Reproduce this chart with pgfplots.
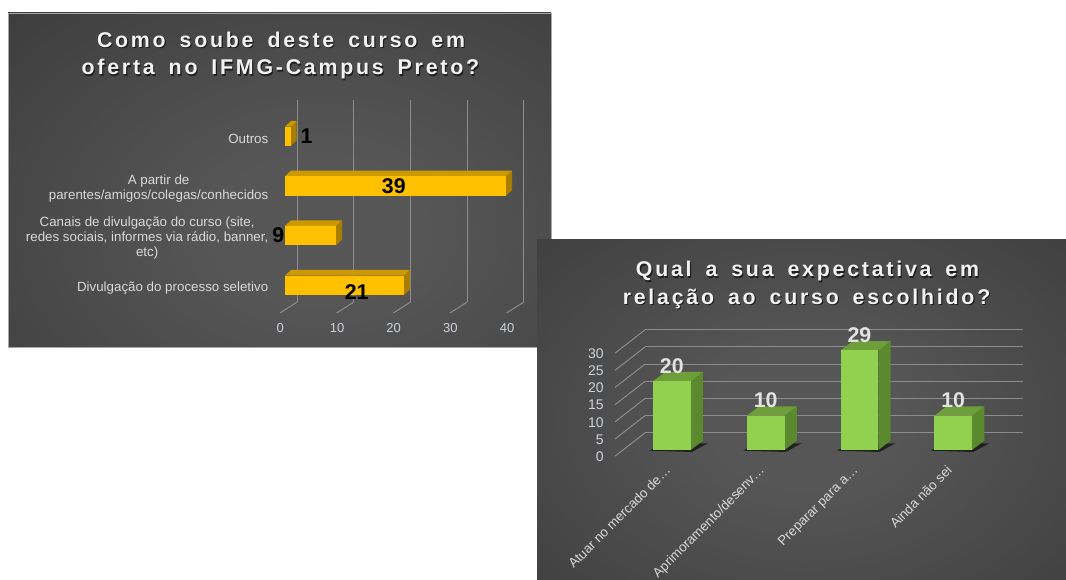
\documentclass[border=0pt]{standalone}
\usepackage{pgfplots}
\usepackage{pgfplotstable}
\pgfplotsset{compat=1.18}
\usepackage{fontspec}
\setmainfont{Liberation Sans}
\newfontfamily\titlefont[LetterSpace=13,WordSpace=1.6]{Liberation Sans}
\definecolor{pin}{HTML}{565656}
\definecolor{pout}{HTML}{1E1E1E}
\definecolor{yfront}{HTML}{FFC000}
\definecolor{ytop}{HTML}{CC9A00}
\definecolor{yside}{HTML}{A87E00}
\definecolor{gfront}{HTML}{92D050}
\definecolor{gtop}{HTML}{6E9E3A}
\definecolor{gside}{HTML}{5B8A2E}
\definecolor{gridc}{HTML}{8C8C8C}
\definecolor{lab}{HTML}{D9D9D9}
\definecolor{tickc}{HTML}{CDD2DA}
\definecolor{ttl}{HTML}{F2F2F2}
\definecolor{labw}{HTML}{E2E2E2}
\pgfdeclareradialshading{panelrad}{\pgfpoint{0bp}{0bp}}{color(0bp)=(pin); color(8bp)=(pin); color(66bp)=(pout)}

% horizontal 3D bar, drawn at the bar's right end (centre of the end)
\pgfdeclareplotmark{hbar3d}{%
  \pgfmathsetlengthmacro\bl{\pgfplotspointmetatransformed*4.25pt}%
  \pgfsetfillcolor{yside}%
  \pgfpathmoveto{\pgfpoint{0pt}{-7.3pt}}%
  \pgfpathlineto{\pgfpoint{4.5pt}{-3.1pt}}%
  \pgfpathlineto{\pgfpoint{4.5pt}{11.5pt}}%
  \pgfpathlineto{\pgfpoint{0pt}{7.3pt}}%
  \pgfpathclose\pgfusepath{fill}%
  \pgfsetfillcolor{ytop}%
  \pgfpathmoveto{\pgfpoint{-\bl}{7.3pt}}%
  \pgfpathlineto{\pgfpoint{0pt}{7.3pt}}%
  \pgfpathlineto{\pgfpoint{4.5pt}{11.5pt}}%
  \pgfpathlineto{\pgfpoint{-\bl+4.5pt}{11.5pt}}%
  \pgfpathclose\pgfusepath{fill}%
  \pgfsetfillcolor{yfront}%
  \pgfpathrectangle{\pgfpoint{-\bl}{-7.3pt}}{\pgfpoint{\bl}{14.6pt}}%
  \pgfusepath{fill}%
}
% vertical 3D bar, drawn at the top centre of the front face
\pgfdeclareplotmark{vbar3d}{%
  \pgfmathsetlengthmacro\bh{\pgfplotspointmetatransformed*2.575pt}%
  \pgfsetfillcolor{black}\pgfsetfillopacity{0.6}%
  \pgfpathmoveto{\pgfpoint{-17pt}{-\bh-0.5pt}}%
  \pgfpathlineto{\pgfpoint{15pt}{-\bh-1.5pt}}%
  \pgfpathlineto{\pgfpoint{27pt}{-\bh+5pt}}%
  \pgfpathlineto{\pgfpoint{-6pt}{-\bh+5pt}}%
  \pgfpathclose\pgfusepath{fill}%
  \pgfsetfillopacity{1}%
  \pgfsetfillcolor{gside}%
  \pgfpathmoveto{\pgfpoint{14.15pt}{0pt}}%
  \pgfpathlineto{\pgfpoint{23.35pt}{7pt}}%
  \pgfpathlineto{\pgfpoint{23.35pt}{-\bh+7pt}}%
  \pgfpathlineto{\pgfpoint{14.15pt}{-\bh}}%
  \pgfpathclose\pgfusepath{fill}%
  \pgfsetfillcolor{gtop}%
  \pgfpathmoveto{\pgfpoint{-14.15pt}{0pt}}%
  \pgfpathlineto{\pgfpoint{14.15pt}{0pt}}%
  \pgfpathlineto{\pgfpoint{23.35pt}{7pt}}%
  \pgfpathlineto{\pgfpoint{-4.95pt}{7pt}}%
  \pgfpathclose\pgfusepath{fill}%
  \pgfsetfillcolor{gfront}%
  \pgfpathrectangle{\pgfpoint{-14.15pt}{-\bh}}{\pgfpoint{28.3pt}{\bh}}%
  \pgfusepath{fill}%
}

\pgfplotstableread{
cat v
0 21
1 9
2 39
3 1
}\tabA
\pgfplotstableread{
i v
0 20
1 10
2 29
3 10
}\tabB

\begin{document}
\begin{tikzpicture}
\useasboundingbox (0pt,0pt) rectangle (799.5pt,-435pt);
\fill[white] (0pt,0pt) rectangle (799.5pt,-435pt);
% panel 1
\begin{scope}
\clip (6pt,-9.75pt) rectangle (413.25pt,-260.25pt);
\shade[shading=panelrad] (-7.5pt,0pt) rectangle (487.5pt,-345pt);
\end{scope}
\draw[gray!70, line width=0.6pt] (6pt,-9.75pt) rectangle (413.25pt,-260.25pt);
% titles panel 1
\begin{scope}[every node/.style={anchor=base, font=\titlefont\bfseries\fontsize{16}{19}\selectfont}]
\node[text=black, opacity=0.6] at (211.6pt,-36.6pt) {Como soube deste curso em};
\node[text=black, opacity=0.6] at (211.1pt,-57.1pt) {oferta no IFMG-Campus Preto?};
\node[text=ttl] at (210.75pt,-35.8pt) {Como soube deste curso em};
\node[text=ttl] at (210.3pt,-56.25pt) {oferta no IFMG-Campus Preto?};
\end{scope}

\begin{axis}[
  at={(213.75pt,-226.5pt)}, anchor=south west,
  x=4.25pt, y=37.25pt,
  xmin=0, xmax=42, ymin=-0.336, ymax=3.73,
  axis x line*=bottom, axis y line*=left,
  axis line style={draw=none}, major tick length=0pt,
  clip=false,
  xtick={0,10,20,30,40},
  ytick={0,1,2,3},
  yticklabels={{Divulgação do processo seletivo},{Canais de divulgação do curso (site,\\redes sociais, informes via rádio, banner,\\etc)},{A partir de\\parentes/amigos/colegas/conhecidos},{Outros}},
  /pgf/number format/assume math mode=true,
  xticklabel style={font=\fontsize{9.75}{11}\selectfont, text=tickc, xshift=-3.5pt, yshift=-12.75pt},
  yticklabel style={font=\fontsize{10}{11.25}\selectfont, text=lab, align=center, xshift=-9pt, yshift=-2pt},
]
\pgfplotsinvokeforeach{0,10,20,30,40}{
  \draw[gridc, line width=0.75pt] (axis cs:#1,-0.336) ++(9.2pt,0pt) -- ++(0pt,151.5pt);
  \draw[gridc, line width=0.75pt] (axis cs:#1,-0.336) ++(9.2pt,0pt) -- ++(-13pt,-8.25pt);
}
\addplot[scatter, only marks, mark=hbar3d,
  scatter/@pre marker code/.code={}, scatter/@post marker code/.code={},
  point meta=explicit, point meta min=0, point meta max=1000]
  table[x=v, y=cat, meta=v]{\tabA};
\addplot[only marks, mark=none, point meta=explicit symbolic, nodes near coords,
  every node near coord/.append style={anchor=center, font=\bfseries\fontsize{16}{18}\selectfont, text=black}]
  table[x=x, y=y, meta=t]{
x y t
3.8 3.0 1
19.2 2.0 39
-1.2 1.0 9
12.65 -0.13 21
};
\end{axis}

% panel 2
\begin{scope}
\clip (402.75pt,-180pt) rectangle (799.5pt,-435pt);
\shade[shading=panelrad] (378.75pt,-157.5pt) rectangle (828.75pt,-472.5pt);
\end{scope}
\begin{scope}[every node/.style={anchor=base, font=\titlefont\bfseries\fontsize{16}{19}\selectfont}]
\node[text=black, opacity=0.6] at (606.45pt,-208.6pt) {Qual a sua expectativa em};
\node[text=black, opacity=0.6] at (605.75pt,-229.3pt) {relação ao curso escolhido?};
\node[text=ttl] at (605.6pt,-207.75pt) {Qual a sua expectativa em};
\node[text=ttl] at (604.9pt,-228.45pt) {relação ao curso escolhido?};
\end{scope}

\begin{axis}[
  at={(483.75pt,-337.5pt)}, anchor=south west,
  x=70.35pt, y=2.575pt,
  xmin=-0.286, xmax=3.74, ymin=0, ymax=35,
  axis x line*=bottom, axis y line*=left,
  axis line style={draw=none}, major tick length=0pt,
  clip=false,
  ytick={0,5,10,15,20,25,30},
  extra y ticks={5,10,15,20,25,30,35},
  extra y tick labels={},
  extra y tick style={grid=major, major grid style={gridc, line width=0.75pt}},
  /pgf/number format/assume math mode=true,
  yticklabel style={font=\fontsize{10.5}{12}\selectfont, text=tickc, xshift=-27.5pt, yshift=-5pt},
  xtick={0,1,2,3},
  xticklabels={Atuar no mercado de…,Aprimoramento/desenv…,Preparar para a…,Ainda não sei},
  xticklabel style={xshift=-5.5pt, yshift=-6pt, rotate=45, anchor=north east, font=\fontsize{10}{12}\selectfont, text=lab},
]
\pgfplotsinvokeforeach{5,10,15,20,25,30,35}{
  \draw[gridc, line width=0.75pt] (axis cs:-0.286,#1) -- ++(-22.5pt,-17.5pt);
}
\addplot[scatter, only marks, mark=vbar3d,
  scatter/@pre marker code/.code={}, scatter/@post marker code/.code={},
  point meta=explicit, point meta min=0, point meta max=1000]
  table[x=i, y=v, meta=v]{\tabB};
\addplot[only marks, mark=none, point meta=explicit symbolic, nodes near coords,
  every node near coord/.append style={anchor=south, yshift=2.5pt, font=\bfseries\fontsize{16}{18}\selectfont, text=labw}]
  table[x=i, y=v, meta=v]{\tabB};
\end{axis}
\end{tikzpicture}
\end{document}
